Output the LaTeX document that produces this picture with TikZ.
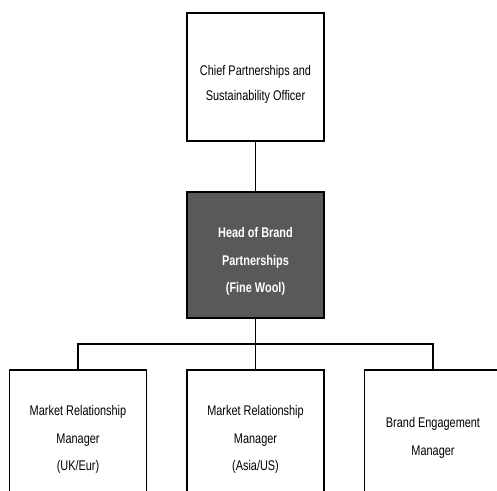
\documentclass[tikz,border=0pt]{standalone}
\usepackage{fontspec}
\setmainfont{Liberation Sans}[FakeStretch=0.78]
\begin{document}
\begin{tikzpicture}[x=1pt,y=-1pt,
  box/.style={draw=black,line width=1.2pt,fill=white,minimum width=137pt,inner sep=0pt},
  boxtext/.style={align=center,inner sep=0pt,font=\fontsize{14}{27.5}\selectfont},
  headbox/.style={box,fill=black!65},
  headtext/.style={boxtext,text=white,font=\fontsize{14}{27.5}\selectfont\bfseries},
  link/.style={draw=black,line width=1.2pt}]
\useasboundingbox (0,0) rectangle (497,490);
\begin{scope}
\clip (0,0) rectangle (497,490);
\node[box,minimum height=128pt,label={[boxtext,font=\fontsize{14}{25}\selectfont,yshift=-7pt]center:{Chief Partnerships and\\Sustainability Officer}}] (cpo) at (255.5,77) {};
\node[headbox,minimum height=126pt,label={[headtext,yshift=-6.5pt]center:{Head of Brand\\Partnerships\\(Fine Wool)}}] (head) at (255.5,255) {};
\node[box,minimum height=134pt,label={[boxtext,yshift=-2.5pt]center:{Market Relationship\\Manager\\(UK/Eur)}}] (m1) at (78,437) {};
\node[box,minimum height=134pt,label={[boxtext,yshift=-2.5pt]center:{Market Relationship\\Manager\\(Asia/US)}}] (m2) at (255.5,437) {};
\node[box,minimum height=134pt,label={[boxtext,yshift=-1pt]center:{Brand Engagement\\Manager}}] (m3) at (433,437) {};
\coordinate (bus) at (255.5,344);
\draw[link] (cpo.south) -- (head.north);
\draw[link] (head.south) -- (bus);
\draw[link] (m1.north) |- (bus) -| (m3.north);
\draw[link] (bus) -- (m2.north);
\end{scope}
\end{tikzpicture}
\end{document}
